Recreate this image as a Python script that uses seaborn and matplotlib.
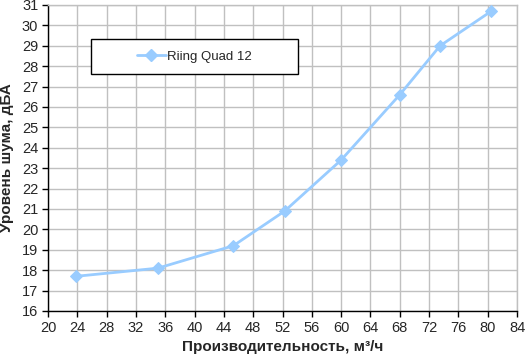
import matplotlib
matplotlib.use("Agg")
import matplotlib.pyplot as plt
import seaborn as sns
import pandas as pd
from matplotlib.patches import Rectangle
from matplotlib.lines import Line2D

sns.set_style("white")
plt.rcParams['font.family'] = ['Liberation Sans', 'DejaVu Sans']

series_name = "Riing Quad 12"
airflow = [23.8, 35.0, 45.3, 52.3, 60.0, 68.0, 73.5, 80.5]
noise = [17.7, 18.1, 19.2, 20.9, 23.4, 26.6, 29.0, 30.7]
x_ticks = list(range(20, 85, 4))
y_ticks = list(range(16, 32, 1))

df = pd.DataFrame({"x": airflow, "y": noise, "s": series_name})
color = "#99CCFF"

fig = plt.figure(figsize=(5.27, 3.62), dpi=100)
ax = fig.add_axes([48/527, 51/362, 469/527, 306/362])

sns.lineplot(data=df, x="x", y="y", ax=ax, color=color, lw=2, marker="D",
             markersize=6.5, markeredgecolor=color, markerfacecolor=color,
             legend=False, zorder=3)

ax.set_xlim(20, 84)
ax.set_ylim(16, 31)
ax.set_xticks(x_ticks)
ax.set_yticks(y_ticks)
ax.grid(True, color="#C0C0C0", lw=1)
ax.set_axisbelow(True)
for s in ["top", "right"]:
    ax.spines[s].set_color("#C0C0C0")
    ax.spines[s].set_linewidth(1)
for s in ["left", "bottom"]:
    ax.spines[s].set_color("black")
    ax.spines[s].set_linewidth(1)
ax.tick_params(axis="both", direction="out", length=4, width=1, color="black",
               labelsize=10.5, pad=3, bottom=True, left=True)
ax.set_xlabel("Производительность, м³/ч", fontsize=11, fontweight="bold", labelpad=4)
ax.set_ylabel("Уровень шума, дБА", fontsize=11, fontweight="bold", labelpad=6)

# legend box
ax.add_patch(Rectangle((0.0917, 0.775), 0.441, 0.114, transform=ax.transAxes,
                       facecolor="white", edgecolor="black", lw=1, zorder=4))
handle = Line2D([], [], color=color, lw=2, marker="D", markersize=6,
                markeredgecolor=color, markerfacecolor=color)
leg = ax.legend([handle], [series_name], loc="center", bbox_to_anchor=(0.312, 0.832),
                bbox_transform=ax.transAxes, frameon=False, fontsize=9.5,
                handlelength=2.2, handletextpad=0.1)
leg.set_zorder(5)

fig.savefig("out.png", dpi=100)
